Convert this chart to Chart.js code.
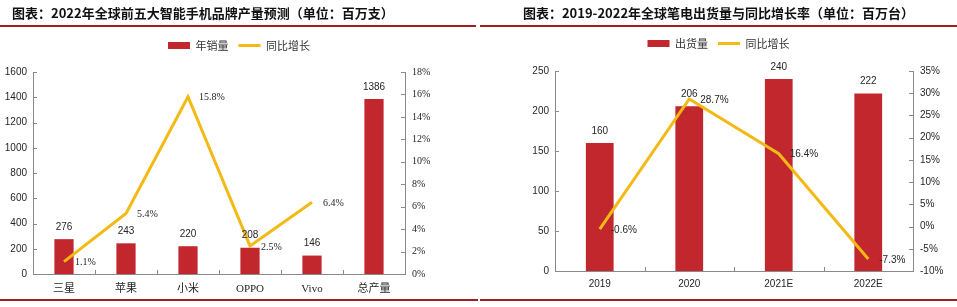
<!DOCTYPE html>
<html><head><meta charset="utf-8">
<script src="https://cdn.jsdelivr.net/npm/chart.js@4.4.1/dist/chart.umd.min.js"></script>
<style>
html,body{margin:0;padding:0;background:#fff;width:957px;height:307px;overflow:hidden;position:relative}
.title{position:absolute;top:4px;font:bold 13px 'Noto Sans CJK SC',sans-serif;color:#111;line-height:18px;white-space:nowrap;z-index:2}
.rule{position:absolute;height:2px;background:#A51D22;z-index:2}
canvas{position:absolute;top:0}
</style></head><body>
<div class="title" style="left:12px">图表：2022年全球前五大智能手机品牌产量预测（单位：百万支）</div>
<div class="title" style="left:480px;width:477px;text-align:center">图表：2019-2022年全球笔电出货量与同比增长率（单位：百万台）</div>
<div class="rule" style="left:0;width:476px;top:25px"></div>
<div class="rule" style="left:480px;width:477px;top:25px"></div>
<canvas id="c1" width="478" height="298" style="left:0"></canvas>
<canvas id="c2" width="477" height="298" style="left:480px"></canvas>
<div class="rule" style="left:0;width:478px;top:299px"></div>
<div class="rule" style="left:480px;width:477px;top:299px"></div>
<script>
// ---- data ----
const phoneBrands = ['三星', '苹果', '小米', 'OPPO', 'Vivo', '总产量'];
const phoneOutput = [276, 243, 220, 208, 146, 1386];
const phoneGrowth = [1.1, 5.4, 15.8, 2.5, 6.4, null];
const laptopYears = ['2019', '2020', '2021E', '2022E'];
const laptopShipments = [160, 206, 240, 222];
const laptopGrowth = [-0.6, 28.7, 16.4, -7.3];

const BAR = '#C1272D';
const LINE = '#F3B914';
const AXIS = '#8a8a8a';
const TXT = '#262626';
const SANS = "'Liberation Sans', Arial, sans-serif";
const SERIF = "'Liberation Serif', 'Noto Sans CJK SC', serif";
const CJK = "'Noto Sans CJK SC', sans-serif";

const tickMarks = {
  id: 'tickMarks',
  afterDraw(chart) {
    const ctx = chart.ctx, a = chart.chartArea;
    ctx.save();
    ctx.strokeStyle = AXIS; ctx.lineWidth = 1;
    ['y', 'y1'].forEach(id => {
      const s = chart.scales[id];
      const isLeft = s.position === 'left';
      const x0 = isLeft ? a.left : a.right;
      s.ticks.forEach((t, i) => {
        const y = Math.round(s.getPixelForTick(i)) + 0.5;
        ctx.beginPath(); ctx.moveTo(x0, y); ctx.lineTo(isLeft ? x0 + 4 : x0 - 4, y); ctx.stroke();
      });
    });
    const xs = chart.scales.x;
    for (let i = 1; i < xs.ticks.length; i++) {
      const x = Math.round(xs.getPixelForValue(i - 0.5)) + 0.5;
      ctx.beginPath(); ctx.moveTo(x, a.bottom); ctx.lineTo(x, a.bottom - 4); ctx.stroke();
    }
    ctx.restore();
  }
};

const valueLabels = {
  id: 'valueLabels',
  afterDatasetsDraw(chart, args, opts) {
    const ctx = chart.ctx;
    ctx.save();
    ctx.fillStyle = TXT;
    chart.data.datasets.forEach((ds, di) => {
      const meta = chart.getDatasetMeta(di);
      meta.data.forEach((el, i) => {
        const v = ds.data[i];
        if (v === null || v === undefined) return;
        if (ds.type === 'bar') {
          ctx.font = opts.barFont; ctx.textAlign = 'center'; ctx.textBaseline = 'middle';
          ctx.fillText(String(v), el.x, el.y - 12);
        } else {
          ctx.font = opts.lineFont; ctx.textAlign = 'left'; ctx.textBaseline = 'middle';
          ctx.fillText(v.toFixed(1) + '%', el.x + 11, el.y + 1);
        }
      });
    });
    ctx.restore();
  }
};

function makeChart(id, o) {
  return new Chart(document.getElementById(id), {
    data: {
      labels: o.labels,
      datasets: [
        { type: 'line', label: o.lineLabel, data: o.growth, yAxisID: 'y1', xAxisID: 'x',
          borderColor: LINE, backgroundColor: LINE, borderWidth: 3, pointRadius: 0, tension: 0, fill: false },
        { type: 'bar', label: o.barLabel, data: o.values, yAxisID: 'y', xAxisID: 'x',
          backgroundColor: BAR, borderWidth: 0, barPercentage: 0.31, categoryPercentage: 1 }
      ]
    },
    options: {
      responsive: false, animation: false, devicePixelRatio: 1,
      layout: { padding: { top: o.padTop, left: 0, right: 0, bottom: 0 } },
      plugins: {
        tooltip: { enabled: false },
        valueLabels: { barFont: '10px ' + SANS, lineFont: o.lineFont },
        legend: {
          position: 'top',
          labels: {
            usePointStyle: true, pointStyleWidth: 22, boxHeight: 7, padding: 10,
            color: '#333', font: { family: CJK, size: 11 },
            sort: (a, b) => b.datasetIndex - a.datasetIndex,
            generateLabels(chart) {
              const items = Chart.defaults.plugins.legend.labels.generateLabels(chart);
              items.forEach(it => {
                const ds = chart.data.datasets[it.datasetIndex];
                if (ds.type === 'line') { it.pointStyle = 'line'; it.strokeStyle = LINE; it.lineWidth = 3; }
                else { it.pointStyle = 'rect'; it.lineWidth = 0; it.fillStyle = BAR; }
              });
              return items;
            }
          }
        }
      },
      scales: {
        x: {
          type: 'category', position: 'bottom', offset: true,
          grid: { display: false, drawTicks: false },
          border: { display: true, color: AXIS, width: 1 },
          ticks: { color: TXT, font: o.xFont, padding: o.xPad, maxRotation: 0, autoSkip: false },
          afterFit(s) { s.height = o.xHeight; }
        },
        xTop: {
          type: 'category', position: 'top', display: true,
          grid: { display: false, drawTicks: false }, border: { display: false },
          ticks: { display: false },
          afterFit(s) { s.height = o.spacer; }
        },
        y: {
          position: 'left', min: o.yMin, max: o.yMax,
          grid: { display: false, drawTicks: false },
          border: { display: true, color: AXIS, width: 1 },
          ticks: { stepSize: o.yStep, color: TXT, font: { family: SANS, size: 10 }, padding: 6, callback: v => String(v) },
          afterFit(s) { s.width = o.yWidth; }
        },
        y1: {
          position: 'right', min: o.y1Min, max: o.y1Max,
          grid: { display: false, drawTicks: false },
          border: { display: true, color: AXIS, width: 1 },
          ticks: { stepSize: o.y1Step, color: TXT, font: o.y1Font, padding: 7, callback: v => v + '%' },
          afterFit(s) { s.width = o.y1Width; }
        }
      }
    },
    plugins: [tickMarks, valueLabels]
  });
}

makeChart('c1', {
  labels: phoneBrands, values: phoneOutput, growth: phoneGrowth,
  barLabel: '年销量', lineLabel: '同比增长',
  padTop: 30, spacer: 11, xHeight: 24, xPad: 9, yWidth: 33, y1Width: 73,
  yMin: 0, yMax: 1600, yStep: 200, y1Min: 0, y1Max: 18, y1Step: 2,
  xFont: { family: SERIF, size: 11 }, y1Font: { family: SERIF, size: 10 },
  lineFont: '10px ' + SERIF
});

makeChart('c2', {
  labels: laptopYears, values: laptopShipments, growth: laptopGrowth,
  barLabel: '出货量', lineLabel: '同比增长',
  padTop: 28, spacer: 12, xHeight: 27, xPad: 7, yWidth: 75, y1Width: 44,
  yMin: 0, yMax: 250, yStep: 50, y1Min: -10, y1Max: 35, y1Step: 5,
  xFont: { family: SANS, size: 10 }, y1Font: { family: SANS, size: 10 },
  lineFont: '10px ' + SANS
});
</script>
</body></html>
